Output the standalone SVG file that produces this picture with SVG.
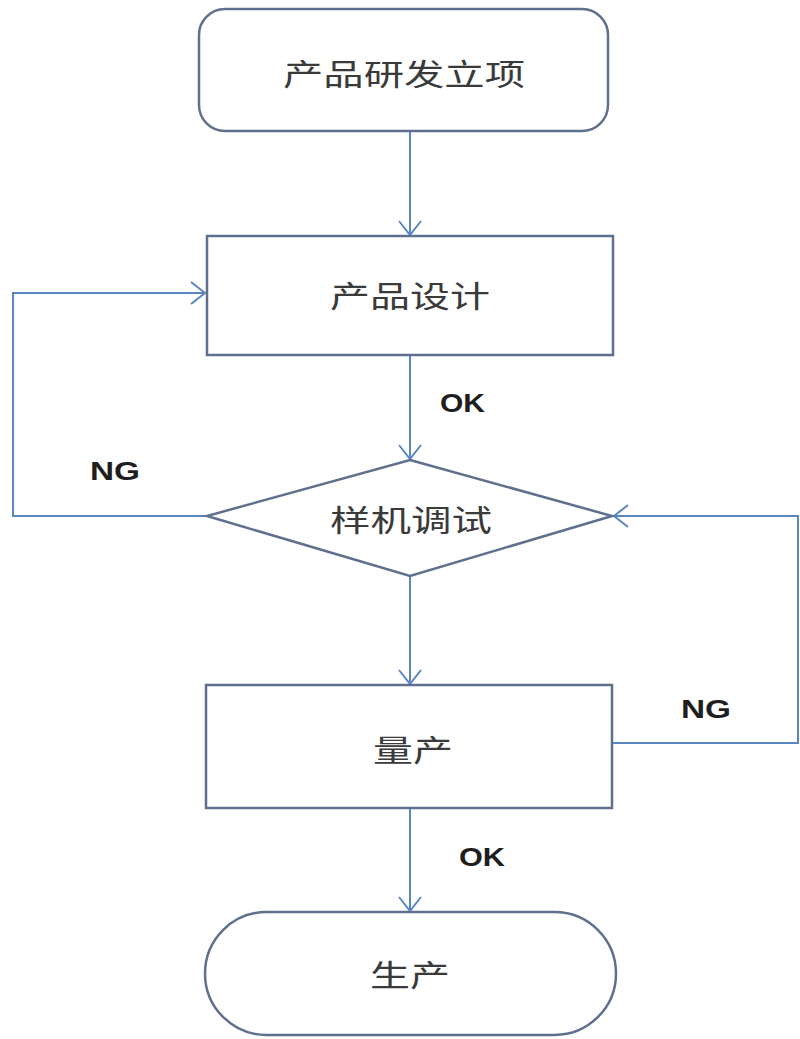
<svg xmlns="http://www.w3.org/2000/svg" width="800" height="1039" viewBox="0 0 800 1039">
  <style>
    .node { fill: #ffffff; stroke: #5f6f8e; stroke-width: 2.5; }
    .edge { fill: none; stroke: #5b86c4; stroke-width: 2; }
    .label { font-family: "Noto Sans CJK SC", "Noto Sans", sans-serif; font-size: 30px; fill: #3a3a3a; }
    .tag { font-family: "Liberation Sans", Arial, sans-serif; font-weight: bold; font-size: 25px; fill: #1e1e1e; }
  </style>
  <defs>
    <marker id="open-arrow" viewBox="0 0 16 24" refX="15" refY="12" markerWidth="16" markerHeight="24" markerUnits="userSpaceOnUse" orient="auto">
      <path d="M1,1 L15,12 L1,23" fill="none" stroke="#5b86c4" stroke-width="2"/>
    </marker>
  </defs>

  <rect width="800" height="1039" fill="#ffffff"/>

  <!-- connectors -->
  <g id="connectors">
    <path class="edge" d="M410,132 L410,235" marker-end="url(#open-arrow)"/>
    <path class="edge" d="M410,356 L410,459" marker-end="url(#open-arrow)"/>
    <path class="edge" d="M207,516 L13,516 L13,293 L205,293" marker-end="url(#open-arrow)"/>
    <path class="edge" d="M410,576 L410,684" marker-end="url(#open-arrow)"/>
    <path class="edge" d="M613,743 L798,743 L798,516 L614,516" marker-end="url(#open-arrow)"/>
    <path class="edge" d="M410,808 L410,911" marker-end="url(#open-arrow)"/>
    <text class="tag" x="440" y="412" textLength="45" lengthAdjust="spacingAndGlyphs">OK</text>
    <text class="tag" x="90" y="480" textLength="50" lengthAdjust="spacingAndGlyphs">NG</text>
    <text class="tag" x="681" y="718" textLength="50" lengthAdjust="spacingAndGlyphs">NG</text>
    <text class="tag" x="459" y="866" textLength="46" lengthAdjust="spacingAndGlyphs">OK</text>
  </g>

  <g id="start">
    <rect class="node" x="199" y="9" width="409" height="122" rx="26" ry="26"/>
    <text class="label" x="283" y="85" textLength="242" lengthAdjust="spacingAndGlyphs">产品研发立项</text>
  </g>

  <g id="design">
    <rect class="node" x="207" y="236" width="406" height="119"/>
    <text class="label" x="330" y="307" textLength="160" lengthAdjust="spacingAndGlyphs">产品设计</text>
  </g>

  <g id="prototype">
    <polygon class="node" points="410,460 612,516 410,576 207,516"/>
    <text class="label" x="330" y="531" textLength="162" lengthAdjust="spacingAndGlyphs">样机调试</text>
  </g>

  <g id="pilot">
    <rect class="node" x="206" y="685" width="406" height="123"/>
    <text class="label" x="373" y="761" textLength="80" lengthAdjust="spacingAndGlyphs">量产</text>
  </g>

  <g id="production">
    <rect class="node" x="205" y="912" width="411" height="123" rx="61.5" ry="61.5"/>
    <text class="label" x="370" y="986" textLength="80" lengthAdjust="spacingAndGlyphs">生产</text>
  </g>
</svg>
